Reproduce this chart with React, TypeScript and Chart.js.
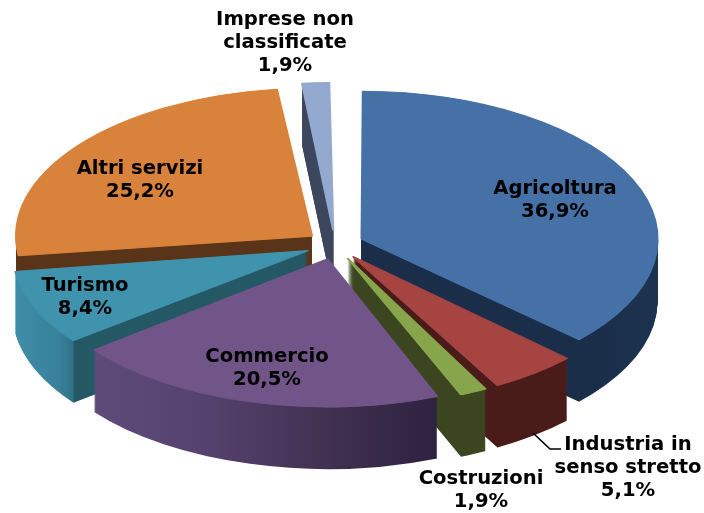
import React, { useEffect, useRef } from "react";
import { Chart, registerables } from "chart.js";

Chart.register(...registerables);

const categories = ["Agricoltura", "Industria in senso stretto", "Costruzioni", "Commercio", "Turismo", "Altri servizi", "Imprese non classificate"];
const shares = [36.9, 5.1, 1.9, 20.5, 8.4, 25.2, 1.9];
const topColors = ["#4671a7", "#a54441", "#87a64b", "#715589", "#4093ad", "#d9823b", "#93a9cf"];
const labelLines = [["Agricoltura"], ["Industria in", "senso stretto"], ["Costruzioni"], ["Commercio"], ["Turismo"], ["Altri servizi"], ["Imprese non", "classificate"]];

// layout of the tilted pie, in page pixels
const CENTER_X = 335, CENTER_Y = 245, RADIUS_X = 296, RADIUS_Y = 148, DEPTH = 62, SLICE_OFFSET = 84;
const paintOrder = [6, 5, 0, 1, 2, 4, 3];
const wallStops: [number, string][][] = [
  [[361, "#1a2e49"], [600, "#1a2e49"], [657, "#1c3350"]],
  [[340, "#4a1c19"], [570, "#4a1c19"]],
  [[340, "#3b4620"], [490, "#3b4620"]],
  [[93, "#5f4b7a"], [200, "#554270"], [330, "#41304f"], [437, "#2d2240"]],
  [[13, "#3f8ea8"], [60, "#37809a"], [73, "#2f7287"], [74, "#245864"], [310, "#245864"]],
  [[10, "#5a3418"], [310, "#5a3418"]],
  [[296, "#3c465c"], [335, "#3c465c"]],
];
const labelAnchors = [[555, 189], [628, 445], [481, 479], [267, 357], [85, 286], [140, 169], [285, 20]];
const leader = [[533, 433], [550, 449], [561, 449]];

const piePlugin = {
  id: "tiltedPie",
  beforeDatasetsDraw(chart: any) {
    const ctx = chart.ctx;
    const meta = chart.getDatasetMeta(0);
    const first = meta.data[0];
    const r = first.outerRadius;
    const sx = RADIUS_X / r, sy = RADIUS_Y / r;
    const cx = first.x, cy = first.y;
    const at = (dy: number) => {
      ctx.translate(CENTER_X, CENTER_Y + dy);
      ctx.scale(sx, sy);
      ctx.translate(-cx, -cy);
    };
    for (const i of paintOrder) {
      const arc = meta.data[i];
      const base = arc.options;
      const baseRadius = arc.outerRadius;
      const mid = (arc.startAngle + arc.endAngle) / 2;
      const step = (base.offset || 0) / 4;
      const shift = Math.cos(mid) * step;
      // Chart.js widens an offset arc by offset * (1 - sin(sweep)); keep all rims on one ellipse
      const sweep = arc.endAngle - arc.startAngle;
      arc.outerRadius = baseRadius - step * (1 - Math.sin(Math.min(Math.PI, sweep)));
      const stops = wallStops[i];
      const xs = stops.map((s) => cx + (s[0] - CENTER_X) / sx - shift);
      const grad = ctx.createLinearGradient(xs[0], 0, xs[xs.length - 1], 0);
      const span = xs[xs.length - 1] - xs[0];
      stops.forEach((s, k) => grad.addColorStop((xs[k] - xs[0]) / span, s[1]));
      arc.options = { ...base, backgroundColor: grad, borderWidth: 0 };
      for (let dy = DEPTH; dy > 0; dy -= 1) {
        ctx.save();
        at(dy);
        arc.draw(ctx);
        ctx.restore();
      }
      arc.options = { ...base, backgroundColor: topColors[i], borderColor: topColors[i], borderWidth: 1.5 };
      ctx.save();
      at(0);
      arc.draw(ctx);
      ctx.restore();
      arc.options = base;
      arc.outerRadius = baseRadius;
    }
    // leader line
    ctx.save();
    ctx.strokeStyle = "#000";
    ctx.lineWidth = 1.6;
    ctx.beginPath();
    leader.forEach((p, k) => (k ? ctx.lineTo(p[0], p[1]) : ctx.moveTo(p[0], p[1])));
    ctx.stroke();
    // labels
    ctx.fillStyle = "#000";
    ctx.font = "bold 19.6px 'DejaVu Sans'";
    ctx.textAlign = "center";
    ctx.textBaseline = "middle";
    shares.forEach((v, i) => {
      const lines = [...labelLines[i], v.toFixed(1).replace(".", ",") + "%"];
      lines.forEach((t, k) => ctx.fillText(t, labelAnchors[i][0], labelAnchors[i][1] + k * 23));
    });
    ctx.restore();
    return false;
  },
};

export default function App() {
  const ref = useRef<HTMLCanvasElement>(null);
  useEffect(() => {
    const chart = new Chart(ref.current as HTMLCanvasElement, {
      type: "pie",
      data: {
        labels: categories,
        datasets: [{ data: shares, backgroundColor: topColors, borderWidth: 0, offset: SLICE_OFFSET }],
      },
      options: {
        responsive: false,
        animation: false,
        layout: { padding: 0 },
        plugins: { legend: { display: false }, tooltip: { enabled: false }, title: { display: false } },
      },
      plugins: [piePlugin],
    } as any);
    return () => chart.destroy();
  }, []);
  return (
    <div style={{ position: "absolute", left: 0, top: 0, width: 704, height: 513, background: "#fff" }}>
      <canvas ref={ref} width={704} height={513} style={{ display: "block", filter: "blur(0.5px)" }} />
    </div>
  );
}
